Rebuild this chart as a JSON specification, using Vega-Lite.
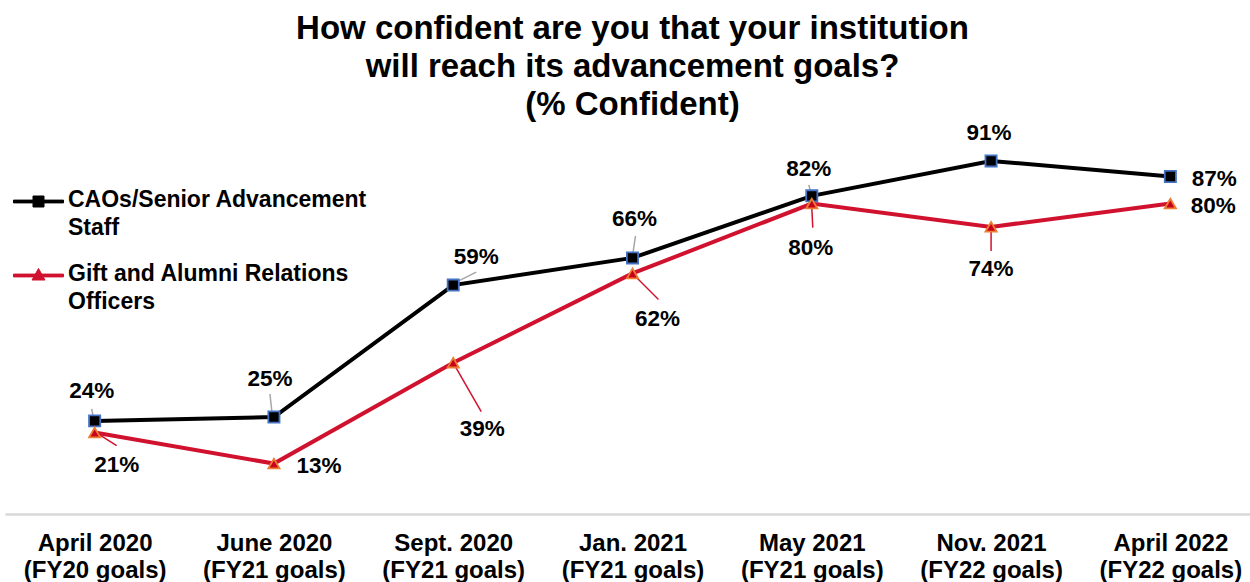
{
  "$schema": "https://vega.github.io/schema/vega-lite/v6.json",
  "width": 1255,
  "height": 388,
  "autosize": {"type": "none"},
  "padding": {"left": 5, "top": 126, "right": 0, "bottom": 68},
  "background": "white",
  "config": {"view": {"stroke": null}, "font": "Liberation Sans"},
  "title": {
    "text": ["How confident are you that your institution", "will reach its advancement goals?", "(% Confident)"],
    "fontSize": 33,
    "fontWeight": "bold",
    "lineHeight": 38,
    "anchor": "middle",
    "color": "black",
    "font": "Liberation Sans",
    "offset": 0
  },
  "params": [
    {"name": "cats", "value": ["April 2020 (FY20 goals)", "June 2020 (FY21 goals)", "Sept. 2020 (FY21 goals)", "Jan. 2021 (FY21 goals)", "May 2021 (FY21 goals)", "Nov. 2021 (FY22 goals)", "April 2022 (FY22 goals)"]}
  ],
  "data": {
    "values": [
      {"period": "April 2020 (FY20 goals)", "series": "CAOs/Senior Advancement Staff", "value": 24},
      {"period": "June 2020 (FY21 goals)", "series": "CAOs/Senior Advancement Staff", "value": 25},
      {"period": "Sept. 2020 (FY21 goals)", "series": "CAOs/Senior Advancement Staff", "value": 59},
      {"period": "Jan. 2021 (FY21 goals)", "series": "CAOs/Senior Advancement Staff", "value": 66},
      {"period": "May 2021 (FY21 goals)", "series": "CAOs/Senior Advancement Staff", "value": 82},
      {"period": "Nov. 2021 (FY22 goals)", "series": "CAOs/Senior Advancement Staff", "value": 91},
      {"period": "April 2022 (FY22 goals)", "series": "CAOs/Senior Advancement Staff", "value": 87},
      {"period": "April 2020 (FY20 goals)", "series": "Gift and Alumni Relations Officers", "value": 21},
      {"period": "June 2020 (FY21 goals)", "series": "Gift and Alumni Relations Officers", "value": 13},
      {"period": "Sept. 2020 (FY21 goals)", "series": "Gift and Alumni Relations Officers", "value": 39},
      {"period": "Jan. 2021 (FY21 goals)", "series": "Gift and Alumni Relations Officers", "value": 62},
      {"period": "May 2021 (FY21 goals)", "series": "Gift and Alumni Relations Officers", "value": 80},
      {"period": "Nov. 2021 (FY22 goals)", "series": "Gift and Alumni Relations Officers", "value": 74},
      {"period": "April 2022 (FY22 goals)", "series": "Gift and Alumni Relations Officers", "value": 80}
    ]
  },
  "encoding": {
    "x": {
      "field": "period",
      "type": "ordinal",
      "sort": null,
      "scale": {"type": "point", "padding": 0.5},
      "axis": {
        "title": null,
        "ticks": false,
        "domainColor": "#d9d9d9",
        "domainWidth": 2.5,
        "labelAngle": 0,
        "labelFont": "Liberation Sans",
        "labelFontSize": 24,
        "labelFontWeight": "bold",
        "labelColor": "black",
        "labelLineHeight": 27.5,
        "labelPadding": 17,
        "labelLimit": 0,
        "labelExpr": "[slice(datum.label, 0, indexof(datum.label, ' (')), slice(datum.label, indexof(datum.label, ' (') + 1)]"
      }
    },
    "y": {"field": "value", "type": "quantitative", "scale": {"domain": [0, 100]}, "axis": null}
  },
  "layer": [
    {
      "mark": {"type": "line", "strokeWidth": 4},
      "encoding": {
        "color": {
          "field": "series",
          "type": "nominal",
          "scale": {"domain": ["CAOs/Senior Advancement Staff", "Gift and Alumni Relations Officers"], "range": ["#000000", "#d0122f"]},
          "legend": {
            "orient": "none",
            "legendX": 22,
            "legendY": 64,
            "title": null,
            "padding": 0,
            "labelFont": "Liberation Sans",
            "labelFontSize": 23,
            "labelFontWeight": "bold",
            "labelColor": "black",
            "labelLimit": 0,
            "labelOffset": 18,
            "labelBaseline": "top",
            "symbolSize": 400,
            "rowPadding": 22,
            "labelExpr": "datum.label == 'CAOs/Senior Advancement Staff' ? ['CAOs/Senior Advancement', 'Staff'] : ['Gift and Alumni Relations', 'Officers']",
            "encode": {
              "symbols": {
                "update": {
                  "shape": {"signal": "datum.value == 'CAOs/Senior Advancement Staff' ? 'M-2.5,-0.14H2.5V0.14H-2.5Z M-0.55,-0.55H0.55V0.55H-0.55Z' : 'M-2.5,-0.14H2.5V0.14H-2.5Z M0,-0.7L0.65,0.45H-0.65Z'"},
                  "fill": {"signal": "datum.value == 'CAOs/Senior Advancement Staff' ? '#000000' : '#d0122f'"},
                  "stroke": {"signal": "datum.value == 'CAOs/Senior Advancement Staff' ? '#000000' : '#d0122f'"},
                  "strokeWidth": {"value": 1},
                  "size": {"value": 400},
                  "opacity": {"value": 1}
                }
              },
              "labels": {"update": {"dy": {"value": -13}, "lineHeight": {"value": 28}}}
            }
          }
        }
      }
    },
    {
      "transform": [{"filter": "datum.series == 'CAOs/Senior Advancement Staff'"}],
      "mark": {
        "type": "rule",
        "color": "#a6a6a6",
        "strokeWidth": 1.5,
        "xOffset": {"expr": "[-1,-2,1,0,-1,0,0][indexof(cats, datum.period)]"},
        "yOffset": {"expr": "[-2,-5,-2,-2,-3,0,0][indexof(cats, datum.period)]"},
        "x2Offset": {"expr": "[-3,-4,23,3,-3,0,0][indexof(cats, datum.period)]"},
        "y2Offset": {"expr": "[-12,-23,-13,-22,-11,0,0][indexof(cats, datum.period)]"}
      },
      "encoding": {"x2": {"field": "period"}, "y2": {"field": "value"}}
    },
    {
      "transform": [{"filter": "datum.series == 'Gift and Alumni Relations Officers'"}],
      "mark": {
        "type": "rule",
        "color": "#d0122f",
        "strokeWidth": 1.5,
        "xOffset": {"expr": "[3,0,1,0,0,0,0][indexof(cats, datum.period)]"},
        "yOffset": {"expr": "[1,0,2,0,4,2,0][indexof(cats, datum.period)]"},
        "x2Offset": {"expr": "[22,0,28,26,1,0,0][indexof(cats, datum.period)]"},
        "y2Offset": {"expr": "[13,0,49,26,24,24,0][indexof(cats, datum.period)]"}
      },
      "encoding": {"x2": {"field": "period"}, "y2": {"field": "value"}}
    },
    {
      "transform": [{"filter": "datum.series == 'CAOs/Senior Advancement Staff'"}],
      "mark": {"type": "point", "shape": "square", "filled": true, "size": 125, "fill": "#000000", "stroke": "#4472c4", "strokeWidth": 1.8, "opacity": 1},
      "encoding": {}
    },
    {
      "transform": [{"filter": "datum.series == 'Gift and Alumni Relations Officers'"}],
      "mark": {"type": "point", "shape": "triangle-up", "filled": true, "size": 125, "fill": "#c8001e", "stroke": "#ed7d31", "strokeWidth": 1.8, "opacity": 1},
      "encoding": {}
    },
    {
      "transform": [{"filter": "datum.series == 'CAOs/Senior Advancement Staff'"}],
      "mark": {
        "type": "text",
        "font": "Liberation Sans",
        "fontSize": 22.5,
        "fontWeight": "bold",
        "color": "black",
        "baseline": "middle",
        "align": "center",
        "text": {"expr": "datum.value + '%'"},
        "dx": {"expr": "[-3,-4,23,2,-3,-2,44][indexof(cats, datum.period)]"},
        "dy": {"expr": "[-30,-38,-28,-39,-27,-28,3][indexof(cats, datum.period)]"}
      },
      "encoding": {}
    },
    {
      "transform": [{"filter": "datum.series == 'Gift and Alumni Relations Officers'"}],
      "mark": {
        "type": "text",
        "font": "Liberation Sans",
        "fontSize": 22.5,
        "fontWeight": "bold",
        "color": "black",
        "baseline": "middle",
        "align": "center",
        "text": {"expr": "datum.value + '%'"},
        "dx": {"expr": "[22,45,29,25,-1,0,43][indexof(cats, datum.period)]"},
        "dy": {"expr": "[32,2,66,46,44,42,2][indexof(cats, datum.period)]"}
      },
      "encoding": {}
    }
  ]
}
